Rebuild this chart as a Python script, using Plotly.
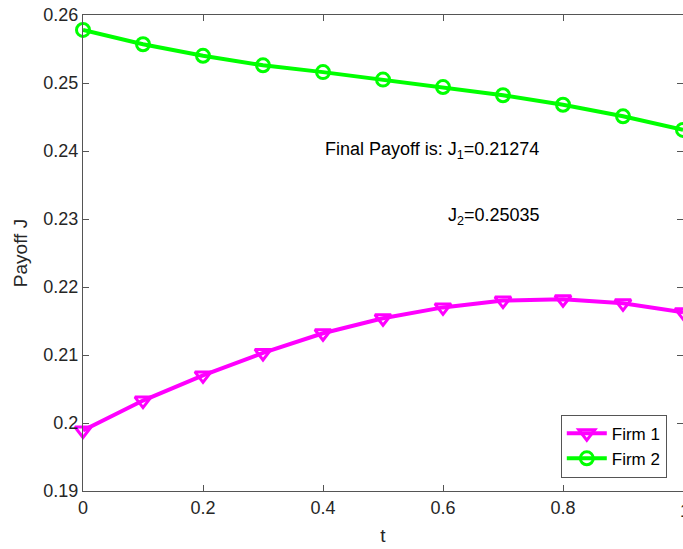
import plotly.graph_objects as go

t = [0.0, 0.1, 0.2, 0.3, 0.4, 0.5, 0.6, 0.7, 0.8, 0.9, 1.0]
firm1 = [0.1989, 0.2033, 0.2070, 0.2103, 0.2132, 0.2154, 0.2170, 0.2180, 0.2182, 0.2176, 0.2163]
firm2 = [0.2578, 0.2557, 0.2540, 0.2526, 0.2516, 0.2505, 0.2494, 0.2482, 0.2468, 0.2451, 0.2431]
yticks = [0.19, 0.20, 0.21, 0.22, 0.23, 0.24, 0.25, 0.26]
ytick_text = ["0.19", "0.2", "0.21", "0.22", "0.23", "0.24", "0.25", "0.26"]
xticks = [0, 0.2, 0.4, 0.6, 0.8, 1]
xtick_text = ["0", "0.2", "0.4", "0.6", "0.8", "1"]

FONT = "Liberation Sans, Arial, sans-serif"
AX = "#555555"
TXT = "#262626"

fig = go.Figure()
fig.add_trace(go.Scatter(
    x=t, y=firm1, name="Firm 1", mode="lines+markers",
    line=dict(color="#FF00FF", width=4),
    marker=dict(symbol="triangle-down-open", size=14, color="#FF00FF", line=dict(width=3, color="#FF00FF")),
    cliponaxis=False,
))
fig.add_trace(go.Scatter(
    x=t, y=firm2, name="Firm 2", mode="lines+markers",
    line=dict(color="#00FF00", width=4),
    marker=dict(symbol="circle-open", size=13, color="#00FF00", line=dict(width=3, color="#00FF00")),
    cliponaxis=False,
))

fig.add_annotation(x=0.4, y=0.2401, xref="x", yref="y", xanchor="left", yanchor="middle",
                   text="Final Payoff is: J<sub>1</sub>=0.21274", showarrow=False,
                   font=dict(family=FONT, size=18, color="black"))
fig.add_annotation(x=0.605, y=0.2303, xref="x", yref="y", xanchor="left", yanchor="middle",
                   text="J<sub>2</sub>=0.25035", showarrow=False,
                   font=dict(family=FONT, size=18, color="black"))
# last x tick label (drawn at the clipped right edge, as in the reference)
fig.add_annotation(x=xticks[-1], y=0.19, xref="x", yref="y", xanchor="center", yanchor="top",
                   yshift=-8, xshift=2, text=xtick_text[-1], showarrow=False,
                   font=dict(family=FONT, size=18, color=TXT))

fig.update_layout(
    width=683, height=549, autosize=False,
    margin=dict(l=83, r=0, t=15, b=58, pad=0),
    paper_bgcolor="white", plot_bgcolor="white",
    font=dict(family=FONT, size=18, color=TXT),
    showlegend=True,
    legend=dict(x=0.973, y=0.028, xanchor="right", yanchor="bottom",
                bgcolor="white", bordercolor=AX, borderwidth=1,
                font=dict(family=FONT, size=17, color="black"),
                tracegroupgap=0, itemwidth=40),
)
fig.update_xaxes(
    range=[0, 1], tickvals=xticks, ticktext=xtick_text,
    showline=True, linecolor=AX, linewidth=1, mirror="ticks",
    ticks="inside", ticklen=6, tickcolor=AX, showgrid=False, zeroline=False,
    title=dict(text="t", font=dict(family=FONT, size=19, color=TXT), standoff=12),
    tickfont=dict(family=FONT, size=18, color=TXT),
)
fig.update_yaxes(
    range=[0.19, 0.26], tickvals=yticks, ticktext=ytick_text,
    showline=True, linecolor=AX, linewidth=1, mirror="ticks",
    ticks="inside", ticklen=6, tickcolor=AX, showgrid=False, zeroline=False,
    title=dict(text="Payoff J", font=dict(family=FONT, size=19, color=TXT), standoff=10),
    tickfont=dict(family=FONT, size=18, color=TXT),
)

fig.write_html("out.html")
